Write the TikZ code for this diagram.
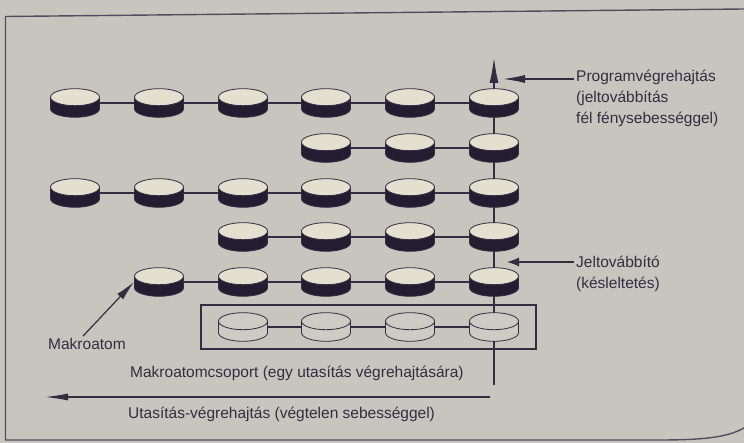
\documentclass[tikz,border=0pt]{standalone}
\usepackage{fontspec}
\setmainfont{Liberation Sans}
\usepackage{xcolor}
\usetikzlibrary{arrows.meta, positioning, fit}

\definecolor{paper}{RGB}{200,197,190}
\definecolor{ink}{RGB}{52,45,66}
\definecolor{atomside}{RGB}{36,28,48}
\definecolor{atomtop}{RGB}{228,224,208}
\definecolor{openfill}{RGB}{206,203,197}

% 圆盘：侧面颜色 #1，顶面颜色 #2
\newcommand{\diskshape}[2]{%
  \begin{scope}[shift={(path picture bounding box.center)}]
    \filldraw[fill=#1, draw=ink, line width=0.8pt]
      (-24.5pt,5.8pt) -- (-24.5pt,-5.8pt)
      arc[start angle=180, end angle=360, x radius=24.5pt, y radius=8.5pt]
      -- (24.5pt,5.8pt) -- cycle;
    \filldraw[fill=#2, draw=ink, line width=0.8pt]
      (0pt,5.8pt) ellipse[x radius=24.5pt, y radius=8.5pt];
  \end{scope}}

\tikzstyle{atom} = [minimum width=50pt, minimum height=30pt, inner sep=0pt, outer sep=0pt, path picture={\diskshape{atomside}{atomtop}}]
\tikzstyle{openatom} = [minimum width=50pt, minimum height=30pt, inner sep=0pt, outer sep=0pt, path picture={\diskshape{openfill}{openfill}}]
\tikzstyle{link} = [draw=ink, line width=1.2pt]
\tikzstyle{spine} = [draw=ink, line width=2.4pt, shorten <=-0.8pt, shorten >=-0.8pt]
\tikzstyle{note} = [font=\fontsize{15.5}{21}\selectfont, text=ink, inner sep=2pt, align=left]
\tikzstyle{arrow} = [draw=ink, line width=1.2pt, ->, >={Latex[length=22pt,width=8pt]}]

\begin{document}
\begin{tikzpicture}[x=1pt, y=1pt]
        \useasboundingbox[fill=paper] (0,0) rectangle (744,443);
        % 页面边框
        \draw[ink!85, line width=1.4pt] (744,434) -- (5.5,426.5) -- (5.5,3) -- (660,3) .. controls (705,3) and (728,6) .. (744,15);

        % 宏原子阵列
        \node[atom] (a1) at (75,340) {};
        \node[atom] (a2) at (159,340) {};
        \node[atom] (a3) at (243,340) {};
        \node[atom] (a4) at (326,340) {};
        \node[atom] (a5) at (410,340) {};
        \node[atom] (a6) at (494,340) {};

        \node[atom] (b4) at (326,295) {};
        \node[atom] (b5) at (410,295) {};
        \node[atom] (b6) at (494,295) {};

        \node[atom] (c1) at (75,250) {};
        \node[atom] (c2) at (159,250) {};
        \node[atom] (c3) at (243,250) {};
        \node[atom] (c4) at (326,250) {};
        \node[atom] (c5) at (410,250) {};
        \node[atom] (c6) at (494,250) {};

        \node[atom] (d3) at (243,206) {};
        \node[atom] (d4) at (326,206) {};
        \node[atom] (d5) at (410,206) {};
        \node[atom] (d6) at (494,206) {};

        \node[atom] (e2) at (159,161) {};
        \node[atom] (e3) at (243,161) {};
        \node[atom] (e4) at (326,161) {};
        \node[atom] (e5) at (410,161) {};
        \node[atom] (e6) at (494,161) {};

        \node[openatom] (g3) at (243,116) {};
        \node[openatom] (g4) at (326,116) {};
        \node[openatom] (g5) at (410,116) {};
        \node[openatom] (g6) at (494,116) {};
        \node[draw=ink, line width=1.2pt, inner xsep=17pt, inner ysep=7pt, fit=(g3)(g6)] (group) {};

        % 行内连线
        \draw[link] (a1) -- (a2); \draw[link] (a2) -- (a3); \draw[link] (a3) -- (a4);
        \draw[link] (a4) -- (a5); \draw[link] (a5) -- (a6);
        \draw[link] (b4) -- (b5); \draw[link] (b5) -- (b6);
        \draw[link] (c1) -- (c2); \draw[link] (c2) -- (c3); \draw[link] (c3) -- (c4);
        \draw[link] (c4) -- (c5); \draw[link] (c5) -- (c6);
        \draw[link] (d3) -- (d4); \draw[link] (d4) -- (d5); \draw[link] (d5) -- (d6);
        \draw[link] (e2) -- (e3); \draw[link] (e3) -- (e4); \draw[link] (e4) -- (e5); \draw[link] (e5) -- (e6);
        \draw[link] (g3) -- (g4); \draw[link] (g4) -- (g5); \draw[link] (g5) -- (g6);

        % 纵向信号线
        \coordinate (pbot) at (494,59);
        \coordinate (ptop) at (494,387);
        \draw[spine] (pbot) -- (g6.south);
        \draw[spine] (g6.north) -- (e6.south);
        \draw[spine] (e6.north) -- (d6.south);
        \draw[spine] (d6.north) -- (c6.south);
        \draw[spine] (c6.north) -- (b6.south);
        \draw[spine] (b6.north) -- (a6.south);
        \draw[spine, shorten >=0pt, ->, >={Latex[length=27pt,width=9pt]}] (a6.north) -- (ptop);

        % 说明文字
        \node[note, anchor=north west] (prog) at (574,375) {Programvégrehajtás\\(jeltovábbítás\\fél fénysebességgel)};
        \coordinate (progtip) at (503,364);
        \draw[arrow] (prog.west |- progtip) -- (progtip);

        \node[note, anchor=north west] (jel) at (574,189) {Jeltovábbító\\(késleltetés)};
        \coordinate (jeltip) at (507,181);
        \draw[arrow, >={Latex[length=12pt,width=9pt]}] (jel.west |- jeltip) -- (jeltip);

        \node[note, anchor=west] (makro) at (46,99) {Makroatom};
        \draw[arrow, >={Latex[length=20pt,width=8pt]}] ([xshift=-4pt]makro.north) -- (e2.west);

        \node[note, anchor=west] (csoport) at (128,70) {Makroatomcsoport (egy utasítás végrehajtására)};

        \coordinate (vstart) at (490,46);
        \coordinate (vend) at (45,46);
        \draw[arrow, >={Latex[length=23pt,width=7pt]}] (vstart) -- (vend);
        \node[note, anchor=west] (utas) at (126,29) {Utasítás-végrehajtás (végtelen sebességgel)};
    \end{tikzpicture}
\end{document}
